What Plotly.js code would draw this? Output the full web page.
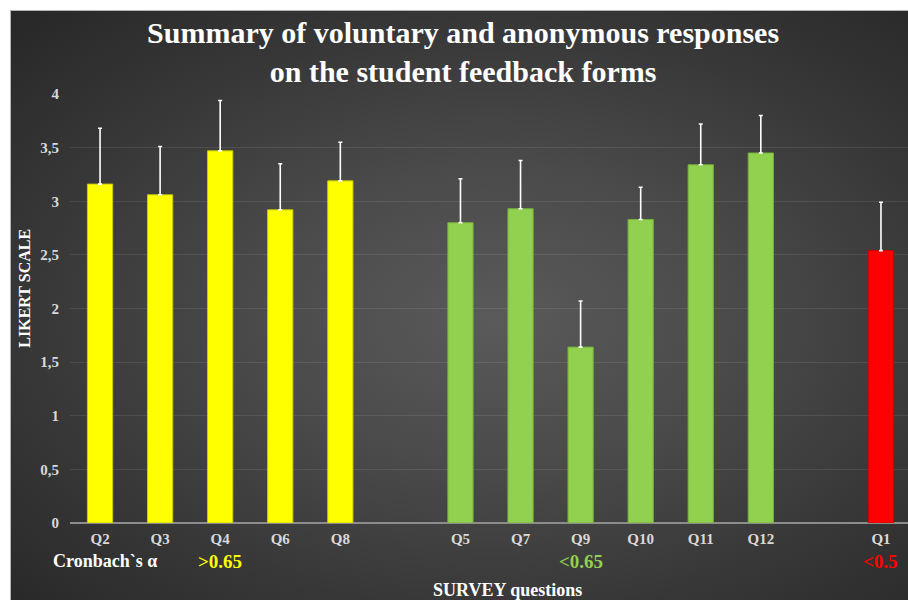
<!DOCTYPE html>
<html>
<head>
<meta charset="utf-8">
<script src="https://cdn.plot.ly/plotly-3.0.1.min.js"></script>
<style>
  html, body { margin: 0; padding: 0; background: #ffffff; width: 908px; height: 600px; overflow: hidden; }
  #wrap { position: absolute; left: 10px; top: 10px; width: 898px; height: 590px;
          border-top: 1px solid #b5b5b5; border-left: 1px solid #b5b5b5;
          background: radial-gradient(ellipse farthest-corner at 54% 52%, #5a5a5a 0%, #4a4a4a 35%, #363636 70%, #272727 100%); }
  #chart { width: 897px; height: 589px; }
</style>
</head>
<body>
<div id="wrap"><div id="chart"></div></div>
<script>
// Category order along the x axis (gap1 / gap2 are empty slots between groups)
const categoryOrder = ["Q2", "Q3", "Q4", "Q6", "Q8", "gap1", "Q5", "Q7", "Q9", "Q10", "Q11", "Q12", "gap2", "Q1"];
const tickLabels = ["Q2", "Q3", "Q4", "Q6", "Q8", "Q5", "Q7", "Q9", "Q10", "Q11", "Q12", "Q1"];

// Group α > 0.65 (yellow)
const highQuestions = ["Q2", "Q3", "Q4", "Q6", "Q8"];
const highMeans     = [3.16, 3.06, 3.47, 2.92, 3.19];
const highErrUp     = [0.52, 0.45, 0.47, 0.43, 0.36];
const highErrDown   = [0, 0, 0, 0, 0];

// Group α < 0.65 (green)
const midQuestions = ["Q5", "Q7", "Q9", "Q10", "Q11", "Q12"];
const midMeans     = [2.80, 2.93, 1.64, 2.83, 3.34, 3.45];
const midErrUp     = [0.41, 0.45, 0.43, 0.30, 0.38, 0.35];
const midErrDown   = [0, 0, 0, 0, 0, 0];

// Group α < 0.5 (red)
const lowQuestions = ["Q1"];
const lowMeans     = [2.54];
const lowErrUp     = [0.45];
const lowErrDown   = [0];

// Cronbach's alpha group labels
const alphaLabels   = [">0.65", "<0.65", "<0.5"];
const alphaAnchors  = ["Q4", "Q9", "Q1"];
const alphaColors   = ["#ffff00", "#92d050", "#ff0000"];

const serif = "Liberation Serif, Times New Roman, serif";

function errBar(up, down) {
  return { type: "data", symmetric: false, array: up, arrayminus: down,
           color: "#ffffff", thickness: 1.6, width: 2 };
}

const traces = [
  { type: "bar", x: highQuestions, y: highMeans, name: ">0.65",
    marker: { color: "#ffff00", line: { color: "#c8c800", width: 1 } },
    error_y: errBar(highErrUp, highErrDown), hoverinfo: "x+y" },
  { type: "bar", x: midQuestions, y: midMeans, name: "<0.65",
    marker: { color: "#92d050", line: { color: "#76b03c", width: 1 } },
    error_y: errBar(midErrUp, midErrDown), hoverinfo: "x+y" },
  { type: "bar", x: lowQuestions, y: lowMeans, name: "<0.5",
    marker: { color: "#ff0000", line: { color: "#d00000", width: 1 } },
    error_y: errBar(lowErrUp, lowErrDown), hoverinfo: "x+y" }
];

const annotations = [
  { text: "Cronbach`s α", xref: "paper", yref: "paper", x: -0.023, y: -0.089,
    xanchor: "left", yanchor: "middle", showarrow: false,
    font: { family: serif, size: 18, color: "#ffffff", weight: "bold" } },
  // y axis title
  { text: "LIKERT SCALE", xref: "paper", yref: "paper", x: -0.054, y: 0.548,
    xanchor: "center", yanchor: "middle", textangle: -90, showarrow: false,
    font: { family: serif, size: 16, color: "#ffffff", weight: "bold" } },
  // x axis title
  { text: "SURVEY questions", xref: "paper", yref: "paper", x: 0.522, y: -0.156,
    xanchor: "center", yanchor: "middle", showarrow: false,
    font: { family: serif, size: 18, color: "#ffffff", weight: "bold" } }
];
alphaLabels.forEach((t, i) => {
  annotations.push({ text: t, xref: "x", yref: "paper", x: alphaAnchors[i], y: -0.089,
    xanchor: "center", yanchor: "middle", showarrow: false,
    font: { family: serif, size: 19, color: alphaColors[i], weight: "bold" } });
});

const layout = {
  width: 897, height: 589,
  margin: { l: 59, r: 0, t: 83, b: 77 },
  paper_bgcolor: "rgba(0,0,0,0)",
  plot_bgcolor: "rgba(0,0,0,0)",
  separators: ",.",
  showlegend: false,
  barmode: "overlay",
  bargap: 0.58,
  title: {
    text: "Summary of voluntary and anonymous responses<br>on the student feedback forms",
    font: { family: serif, size: 30, color: "#ffffff", weight: "bold" },
    xref: "container", x: 0.504, xanchor: "center",
    yref: "container", y: 0.945, yanchor: "top"
  },
  xaxis: {
    type: "category",
    categoryorder: "array", categoryarray: categoryOrder,
    tickmode: "array", tickvals: tickLabels, ticktext: tickLabels,
    range: [-0.5, 13.45],
    showgrid: false, zeroline: false,
    showline: false, ticks: "",
    ticklabelstandoff: 5,
    tickfont: { family: serif, size: 15, color: "#d9d9d9", weight: "bold" }
  },
  yaxis: {
    range: [0, 4], dtick: 0.5, tick0: 0,
    showgrid: true, gridcolor: "rgba(255,255,255,0.09)", gridwidth: 1,
    zeroline: true, zerolinecolor: "#8c8c8c", zerolinewidth: 1.5,
    showline: false, ticks: "",
    ticklabelstandoff: 10,
    tickfont: { family: serif, size: 15, color: "#d9d9d9", weight: "bold" }
  },
  annotations: annotations
};

Plotly.newPlot("chart", traces, layout, { displayModeBar: false });
</script>
</body>
</html>
